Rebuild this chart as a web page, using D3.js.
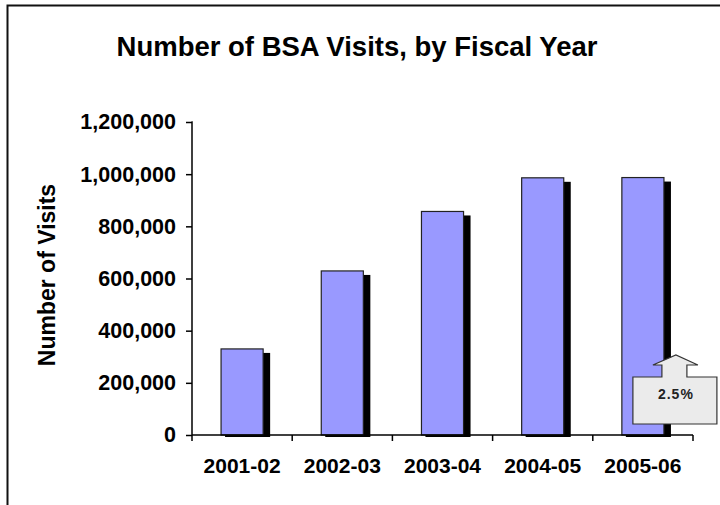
<!DOCTYPE html>
<html>
<head>
<meta charset="utf-8">
<script src="https://cdn.jsdelivr.net/npm/d3@7"></script>
<style>
  html, body { margin: 0; padding: 0; background: #fff; }
  svg { display: block; font-family: "Liberation Sans", Arial, sans-serif; }
</style>
</head>
<body>
<svg id="chart" width="720" height="505"></svg>
<script>
// Fiscal years and BSA visit counts
const fiscalYears = ["2001-02", "2002-03", "2003-04", "2004-05", "2005-06"];
const visits = [330000, 629000, 857000, 986000, 987000];
const yTicks = [0, 200000, 400000, 600000, 800000, 1000000, 1200000];
const calloutText = "2.5%";

const svg = d3.select("#chart");
const W = 720, H = 505;
const plot = { left: 192, right: 693, top: 122, bottom: 435 };

// Outer frame: top and left edges only
svg.append("path")
  .attr("d", `M7.5,${H} V5.5 H${W}`)
  .attr("fill", "none")
  .attr("stroke", "#111")
  .attr("stroke-width", 2);

// Title
svg.append("text")
  .attr("x", 357)
  .attr("y", 56)
  .attr("text-anchor", "middle")
  .attr("font-size", 27.5)
  .attr("font-weight", "bold")
  .text("Number of BSA Visits, by Fiscal Year");

const x = d3.scaleBand().domain(fiscalYears).range([plot.left, plot.right]).paddingInner(0.58).paddingOuter(0.29);
const y = d3.scaleLinear().domain([0, 1200000]).range([plot.bottom, plot.top]);

const data = fiscalYears.map((k, i) => ({ k, v: visits[i] }));

// Drop shadows behind the bars
svg.append("g").selectAll("rect").data(data).join("rect")
  .attr("x", d => x(d.k) + 4)
  .attr("y", d => y(d.v) + 4)
  .attr("width", x.bandwidth() + 3)
  .attr("height", d => plot.bottom - y(d.v) - 2)
  .attr("fill", "#000");

// Bars
svg.append("g").selectAll("rect").data(data).join("rect")
  .attr("x", d => x(d.k))
  .attr("y", d => y(d.v))
  .attr("width", x.bandwidth())
  .attr("height", d => plot.bottom - y(d.v))
  .attr("fill", "#9999ff")
  .attr("stroke", "#222")
  .attr("stroke-width", 1.2);

// Y axis
const yAxis = d3.axisLeft(y).tickValues(yTicks).tickSize(6).tickPadding(10)
  .tickFormat(d3.format(","));
const gy = svg.append("g").attr("transform", `translate(${plot.left},0)`).call(yAxis);
gy.select(".domain").attr("d", `M-0.5,${plot.top}H0V${plot.bottom}`).attr("stroke", "#000").attr("stroke-width", 1.5);
gy.selectAll(".tick line").attr("stroke", "#000").attr("stroke-width", 1.5);
gy.selectAll(".tick text").attr("font-size", 21.5).attr("font-weight", "bold").attr("fill", "#000")
  .attr("font-family", "Liberation Sans, Arial, sans-serif");

// X axis with ticks at band boundaries
const gx = svg.append("g").attr("transform", `translate(0,${plot.bottom})`);
gx.append("line").attr("x1", plot.left).attr("x2", plot.right).attr("stroke", "#000").attr("stroke-width", 1.5);
const bounds = d3.range(fiscalYears.length + 1).map(i => plot.left + i * (plot.right - plot.left) / fiscalYears.length);
gx.selectAll(".bt").data(bounds).join("line")
  .attr("x1", d => d).attr("x2", d => d).attr("y1", 0).attr("y2", 6)
  .attr("stroke", "#000").attr("stroke-width", 1.5);
gx.selectAll(".cat").data(fiscalYears).join("text")
  .attr("x", d => x(d) + x.bandwidth() / 2)
  .attr("y", 38)
  .attr("text-anchor", "middle")
  .attr("font-size", 21)
  .attr("font-weight", "bold")
  .text(d => d);

// Y axis title
svg.append("text")
  .attr("transform", `translate(55,275) rotate(-90)`)
  .attr("text-anchor", "middle")
  .attr("font-size", 23)
  .attr("font-weight", "bold")
  .text("Number of Visits");

// Growth callout on the last bar
const last = fiscalYears[fiscalYears.length - 1];
const cx = x(last) + x.bandwidth() / 2 + 33;
const boxL = cx - 43, boxR = cx + 41, boxT = 377, boxB = 424;
const shaftL = cx - 14, shaftR = cx + 11, headL = cx - 23, headR = cx + 22, headY = 365, tipY = 355;
const callout = svg.append("g");
callout.append("path")
  .attr("d", `M${boxL},${boxT} H${shaftL} V${headY} H${headL} L${cx},${tipY} L${headR},${headY} H${shaftR} V${boxT} H${boxR} V${boxB} H${boxL} Z`)
  .attr("fill", "#ebebeb")
  .attr("stroke", "#333")
  .attr("stroke-width", 1.2);
callout.append("text")
  .attr("x", cx)
  .attr("y", 399)
  .attr("text-anchor", "middle")
  .attr("font-size", 14)
  .attr("font-weight", "bold")
  .attr("letter-spacing", 1)
  .attr("fill", "#222")
  .text(calloutText);
</script>
</body>
</html>
